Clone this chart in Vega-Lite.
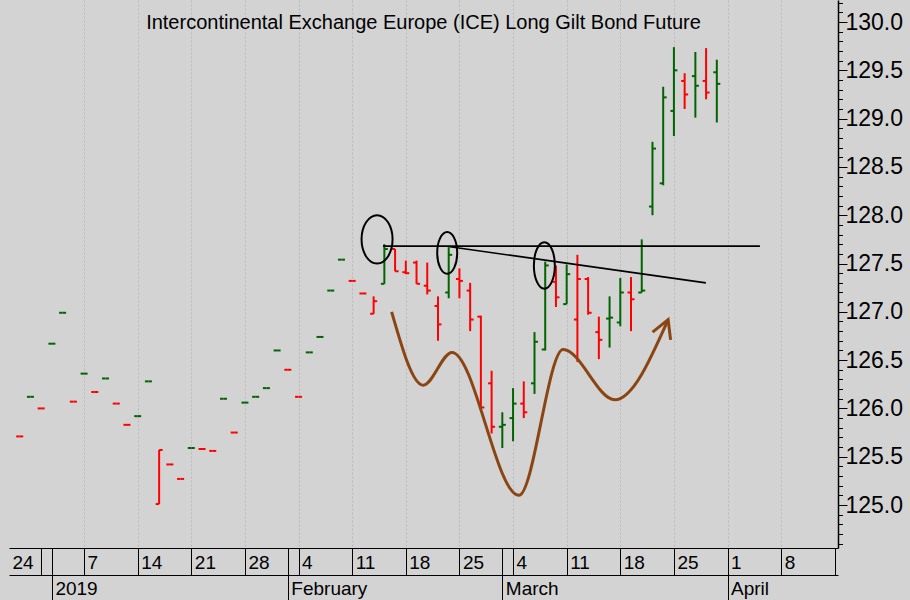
{
  "$schema": "https://vega.github.io/schema/vega-lite/v6.json",
  "width": 829,
  "height": 548,
  "autosize": {"type": "none"},
  "padding": {"left": 9, "top": 0, "right": 72, "bottom": 52},
  "background": "#d3d3d3",
  "config": {"view": {"stroke": null}, "font": "Liberation Sans"},
  "title": {"text": "Intercontinental Exchange Europe (ICE) Long Gilt Bond Future", "anchor": "middle", "frame": "group", "offset": -43, "baseline": "middle", "fontSize": 20, "fontWeight": "normal", "font": "Liberation Sans", "color": "#000000"},
  "datasets": {
    "ohlc": [
      {"d": "2018-12-27", "i": 1, "open": 125.71, "high": 125.71, "low": 125.71, "close": 125.71},
      {"d": "2018-12-28", "i": 2, "open": 126.12, "high": 126.12, "low": 126.12, "close": 126.12},
      {"d": "2018-12-31", "i": 3, "open": 126.00, "high": 126.00, "low": 126.00, "close": 126.00},
      {"d": "2019-01-02", "i": 4, "open": 126.67, "high": 126.67, "low": 126.67, "close": 126.67},
      {"d": "2019-01-03", "i": 5, "open": 126.99, "high": 126.99, "low": 126.99, "close": 126.99},
      {"d": "2019-01-04", "i": 6, "open": 126.07, "high": 126.07, "low": 126.07, "close": 126.07},
      {"d": "2019-01-07", "i": 7, "open": 126.36, "high": 126.36, "low": 126.36, "close": 126.36},
      {"d": "2019-01-08", "i": 8, "open": 126.17, "high": 126.17, "low": 126.17, "close": 126.17},
      {"d": "2019-01-09", "i": 9, "open": 126.31, "high": 126.31, "low": 126.31, "close": 126.31},
      {"d": "2019-01-10", "i": 10, "open": 126.05, "high": 126.05, "low": 126.05, "close": 126.05},
      {"d": "2019-01-11", "i": 11, "open": 125.83, "high": 125.83, "low": 125.83, "close": 125.83},
      {"d": "2019-01-14", "i": 12, "open": 125.92, "high": 125.92, "low": 125.92, "close": 125.92},
      {"d": "2019-01-15", "i": 13, "open": 126.28, "high": 126.28, "low": 126.28, "close": 126.28},
      {"d": "2019-01-16", "i": 14, "open": 125.01, "high": 125.57, "low": 125.01, "close": 125.57},
      {"d": "2019-01-17", "i": 15, "open": 125.42, "high": 125.42, "low": 125.42, "close": 125.42},
      {"d": "2019-01-18", "i": 16, "open": 125.27, "high": 125.27, "low": 125.27, "close": 125.27},
      {"d": "2019-01-21", "i": 17, "open": 125.59, "high": 125.59, "low": 125.59, "close": 125.59},
      {"d": "2019-01-22", "i": 18, "open": 125.58, "high": 125.58, "low": 125.58, "close": 125.58},
      {"d": "2019-01-23", "i": 19, "open": 125.56, "high": 125.56, "low": 125.56, "close": 125.56},
      {"d": "2019-01-24", "i": 20, "open": 126.10, "high": 126.10, "low": 126.10, "close": 126.10},
      {"d": "2019-01-25", "i": 21, "open": 125.75, "high": 125.75, "low": 125.75, "close": 125.75},
      {"d": "2019-01-28", "i": 22, "open": 126.06, "high": 126.06, "low": 126.06, "close": 126.06},
      {"d": "2019-01-29", "i": 23, "open": 126.12, "high": 126.12, "low": 126.12, "close": 126.12},
      {"d": "2019-01-30", "i": 24, "open": 126.21, "high": 126.21, "low": 126.21, "close": 126.21},
      {"d": "2019-01-31", "i": 25, "open": 126.60, "high": 126.60, "low": 126.60, "close": 126.60},
      {"d": "2019-02-01", "i": 26, "open": 126.40, "high": 126.40, "low": 126.40, "close": 126.40},
      {"d": "2019-02-04", "i": 27, "open": 126.12, "high": 126.12, "low": 126.12, "close": 126.12},
      {"d": "2019-02-05", "i": 28, "open": 126.58, "high": 126.58, "low": 126.58, "close": 126.58},
      {"d": "2019-02-06", "i": 29, "open": 126.74, "high": 126.74, "low": 126.74, "close": 126.74},
      {"d": "2019-02-07", "i": 30, "open": 127.22, "high": 127.22, "low": 127.22, "close": 127.22},
      {"d": "2019-02-08", "i": 31, "open": 127.54, "high": 127.54, "low": 127.54, "close": 127.54},
      {"d": "2019-02-11", "i": 32, "open": 127.32, "high": 127.32, "low": 127.32, "close": 127.32},
      {"d": "2019-02-12", "i": 33, "open": 127.19, "high": 127.19, "low": 127.19, "close": 127.19},
      {"d": "2019-02-13", "i": 34, "open": 126.98, "high": 127.16, "low": 126.98, "close": 127.11},
      {"d": "2019-02-14", "i": 35, "open": 127.29, "high": 127.70, "low": 127.29, "close": 127.65},
      {"d": "2019-02-15", "i": 36, "open": 127.65, "high": 127.65, "low": 127.42, "close": 127.42},
      {"d": "2019-02-18", "i": 37, "open": 127.41, "high": 127.53, "low": 127.39, "close": 127.40},
      {"d": "2019-02-19", "i": 38, "open": 127.51, "high": 127.53, "low": 127.29, "close": 127.29},
      {"d": "2019-02-20", "i": 39, "open": 127.27, "high": 127.51, "low": 127.18, "close": 127.22},
      {"d": "2019-02-21", "i": 40, "open": 127.06, "high": 127.16, "low": 126.70, "close": 126.87},
      {"d": "2019-02-22", "i": 41, "open": 127.20, "high": 127.67, "low": 127.14, "close": 127.59},
      {"d": "2019-02-25", "i": 42, "open": 127.34, "high": 127.45, "low": 127.14, "close": 127.32},
      {"d": "2019-02-26", "i": 43, "open": 127.22, "high": 127.30, "low": 126.80, "close": 126.92},
      {"d": "2019-02-27", "i": 44, "open": 126.95, "high": 126.96, "low": 125.98, "close": 126.01},
      {"d": "2019-02-28", "i": 45, "open": 126.26, "high": 126.39, "low": 125.74, "close": 125.81},
      {"d": "2019-03-01", "i": 46, "open": 125.81, "high": 125.96, "low": 125.59, "close": 125.83},
      {"d": "2019-03-04", "i": 47, "open": 125.90, "high": 126.21, "low": 125.66, "close": 126.05},
      {"d": "2019-03-05", "i": 48, "open": 126.05, "high": 126.28, "low": 125.90, "close": 125.96},
      {"d": "2019-03-06", "i": 49, "open": 126.26, "high": 126.79, "low": 126.15, "close": 126.69},
      {"d": "2019-03-07", "i": 50, "open": 126.61, "high": 127.52, "low": 126.60, "close": 127.48},
      {"d": "2019-03-08", "i": 51, "open": 127.31, "high": 127.48, "low": 127.05, "close": 127.15},
      {"d": "2019-03-11", "i": 52, "open": 127.08, "high": 127.49, "low": 127.08, "close": 127.39},
      {"d": "2019-03-12", "i": 53, "open": 126.92, "high": 127.59, "low": 126.48, "close": 127.34},
      {"d": "2019-03-13", "i": 54, "open": 127.34, "high": 127.36, "low": 126.97, "close": 126.99},
      {"d": "2019-03-14", "i": 55, "open": 126.79, "high": 126.95, "low": 126.51, "close": 126.71},
      {"d": "2019-03-15", "i": 56, "open": 126.93, "high": 127.16, "low": 126.63, "close": 126.94},
      {"d": "2019-03-18", "i": 57, "open": 126.89, "high": 127.35, "low": 126.85, "close": 127.20},
      {"d": "2019-03-19", "i": 58, "open": 127.20, "high": 127.36, "low": 126.80, "close": 127.13},
      {"d": "2019-03-20", "i": 59, "open": 127.20, "high": 127.75, "low": 127.20, "close": 127.22},
      {"d": "2019-03-21", "i": 60, "open": 128.09, "high": 128.76, "low": 128.00, "close": 128.69},
      {"d": "2019-03-22", "i": 61, "open": 128.33, "high": 129.33, "low": 128.31, "close": 129.22},
      {"d": "2019-03-25", "i": 62, "open": 129.08, "high": 129.74, "low": 128.82, "close": 129.50},
      {"d": "2019-03-26", "i": 63, "open": 129.39, "high": 129.47, "low": 129.10, "close": 129.25},
      {"d": "2019-03-27", "i": 64, "open": 129.44, "high": 129.69, "low": 129.01, "close": 129.34},
      {"d": "2019-03-28", "i": 65, "open": 129.39, "high": 129.73, "low": 129.20, "close": 129.27},
      {"d": "2019-03-29", "i": 66, "open": 129.48, "high": 129.61, "low": 128.96, "close": 129.36}
    ],
    "hline": [{"i": 34.87, "i2": 70.02, "v": 127.68}],
    "trend": [{"i": 41.11, "v": 127.674, "i2": 64.98, "v2": 127.30}],
    "ell1": [{"i": 34.32, "v": 127.75}],
    "ell2": [{"i": 40.86, "v": 127.61}],
    "ell3": [{"i": 49.92, "v": 127.48}],
    "curve": [
      {"k": 0, "i": 35.68, "v": 127.00},
      {"k": 1, "i": 38.62, "v": 126.24},
      {"k": 2, "i": 41.30, "v": 126.58},
      {"k": 3, "i": 47.54, "v": 125.10},
      {"k": 4, "i": 51.67, "v": 126.61},
      {"k": 5, "i": 56.49, "v": 126.09},
      {"k": 6, "i": 61.46, "v": 126.92}
    ],
    "arrow": [
      {"k": 0, "i": 60.01, "v": 126.79},
      {"k": 1, "i": 61.46, "v": 126.92},
      {"k": 2, "i": 61.69, "v": 126.71}
    ]
  },
  "resolve": {"axis": {"x": "independent", "y": "independent"}},
  "layer": [
    {
      "data": {"name": "ohlc"},
      "transform": [{"window": [{"op": "lag", "field": "close", "as": "prev"}], "sort": [{"field": "i"}]}],
      "mark": {"type": "rule", "strokeWidth": 2},
      "encoding": {
        "x": {"field": "i", "type": "quantitative", "scale": {"domain": [0, 77.3], "nice": false, "zero": false},
          "axis": {
            "orient": "bottom", "title": null,
            "values": [0, 3, 4, 7, 12, 17, 22, 26, 27, 32, 37, 42, 46, 47, 52, 57, 62, 67, 72, 77],
            "labelExpr": "{'0':'24','7':'7','12':'14','17':'21','22':'28','27':'4','32':'11','37':'18','42':'25','47':'4','52':'11','57':'18','62':'25','67':'1','72':'8'}[datum.value] || ''",
            "domain": true, "domainColor": "#000000", "domainWidth": 1,
            "ticks": true, "tickSize": 27, "tickColor": "#000000", "tickWidth": 1,
            "tickOpacity": {"condition": {"test": "datum.value == 0", "value": 0}, "value": 1},
            "grid": true, "gridColor": "#b8b8b8", "gridDash": [2, 2], "gridWidth": 1,
            "gridOpacity": {"condition": {"test": "indexof([0,3,4,26,46,77], datum.value) >= 0", "value": 0}, "value": 1},
            "labelAlign": "left", "labelBaseline": "middle", "labelOffset": 3, "labelPadding": -13,
            "labelFontSize": 19, "labelFont": "Liberation Sans", "labelColor": "#000000",
            "labelOverlap": false, "labelFlush": false, "labelBound": false
          }
        },
        "y": {"field": "low", "type": "quantitative", "scale": {"domain": [124.555, 130.228], "nice": false, "zero": false},
          "axis": {
            "orient": "right", "title": null,
            "values": [125, 125.5, 126, 126.5, 127, 127.5, 128, 128.5, 129, 129.5, 130],
            "format": ".1f",
            "domain": true, "domainColor": "#000000", "domainWidth": 1.5,
            "ticks": true, "tickSize": 9, "tickColor": "#000000", "tickWidth": 1,
            "grid": false,
            "labelAlign": "left", "labelBaseline": "middle", "labelPadding": -2,
            "labelFontSize": 23, "labelFont": "Liberation Sans", "labelColor": "#000000",
            "labelOverlap": false, "labelFlush": false, "labelBound": false
          }
        },
        "y2": {"field": "high"},
        "color": {"condition": {"test": "datum.prev != null && datum.close > datum.prev", "value": "#006400"}, "value": "#ff0000"}
      }
    },
    {
      "data": {"name": "ohlc"},
      "transform": [{"window": [{"op": "lag", "field": "close", "as": "prev"}], "sort": [{"field": "i"}]}],
      "mark": {"type": "rule", "strokeWidth": 2, "xOffset": -3.5, "x2Offset": 0},
      "encoding": {
        "x": {"field": "i", "type": "quantitative", "scale": {"domain": [0, 77.3], "nice": false, "zero": false},
          "axis": {
            "orient": "bottom", "offset": 27, "title": null,
            "values": [4, 26, 46, 67],
            "labelExpr": "{'4':'2019','26':'February','46':'March','67':'April'}[datum.value] || ''",
            "domain": true, "domainColor": "#000000", "domainWidth": 1,
            "ticks": true, "tickSize": 25, "tickColor": "#000000", "tickWidth": 1,
            "grid": false,
            "labelAlign": "left", "labelBaseline": "middle", "labelOffset": 3, "labelPadding": -12,
            "labelFontSize": 19, "labelFont": "Liberation Sans", "labelColor": "#000000",
            "labelOverlap": false, "labelFlush": false, "labelBound": false
          }
        },
        "x2": {"field": "i"},
        "y": {"field": "open", "type": "quantitative", "scale": {"domain": [124.555, 130.228], "nice": false, "zero": false},
          "axis": {
            "orient": "right", "title": null,
            "values": [124.6, 124.7, 124.8, 124.9, 125.0, 125.1, 125.2, 125.3, 125.4, 125.5, 125.6, 125.7, 125.8, 125.9, 126.0, 126.1, 126.2, 126.3, 126.4, 126.5, 126.6, 126.7, 126.8, 126.9, 127.0, 127.1, 127.2, 127.3, 127.4, 127.5, 127.6, 127.7, 127.8, 127.9, 128.0, 128.1, 128.2, 128.3, 128.4, 128.5, 128.6, 128.7, 128.8, 128.9, 129.0, 129.1, 129.2, 129.3, 129.4, 129.5, 129.6, 129.7, 129.8, 129.9, 130.0, 130.1, 130.2],
            "labels": false, "domain": false, "grid": false,
            "ticks": true, "tickSize": 4.5, "tickColor": "#000000", "tickWidth": 1
          }
        },
        "color": {"condition": {"test": "datum.prev != null && datum.close > datum.prev", "value": "#006400"}, "value": "#ff0000"}
      }
    },
    {
      "data": {"name": "ohlc"},
      "transform": [{"window": [{"op": "lag", "field": "close", "as": "prev"}], "sort": [{"field": "i"}]}],
      "mark": {"type": "rule", "strokeWidth": 2, "xOffset": 0, "x2Offset": 3.5},
      "encoding": {
        "x": {"field": "i", "type": "quantitative", "axis": null},
        "x2": {"field": "i"},
        "y": {"field": "close", "type": "quantitative", "axis": null},
        "color": {"condition": {"test": "datum.prev != null && datum.close > datum.prev", "value": "#006400"}, "value": "#ff0000"}
      }
    },
    {
      "data": {"name": "hline"},
      "mark": {"type": "rule", "color": "#000000", "strokeWidth": 1.6},
      "encoding": {
        "x": {"field": "i", "type": "quantitative", "axis": null},
        "x2": {"field": "i2"},
        "y": {"field": "v", "type": "quantitative", "axis": null}
      }
    },
    {
      "data": {"name": "trend"},
      "mark": {"type": "rule", "color": "#000000", "strokeWidth": 1.6},
      "encoding": {
        "x": {"field": "i", "type": "quantitative", "axis": null},
        "x2": {"field": "i2"},
        "y": {"field": "v", "type": "quantitative", "axis": null},
        "y2": {"field": "v2"}
      }
    },
    {
      "data": {"name": "ell1"},
      "mark": {"type": "point", "filled": false, "color": "#000000", "opacity": 1, "strokeWidth": 2, "size": 2333,
        "shape": "M0.642,0C0.642,0.5523,0.3546,1,0,1C-0.3546,1,-0.642,0.5523,-0.642,0C-0.642,-0.5523,-0.3546,-1,0,-1C0.3546,-1,0.642,-0.5523,0.642,0Z"},
      "encoding": {
        "x": {"field": "i", "type": "quantitative", "axis": null},
        "y": {"field": "v", "type": "quantitative", "axis": null}
      }
    },
    {
      "data": {"name": "ell2"},
      "mark": {"type": "point", "filled": false, "color": "#000000", "opacity": 1, "strokeWidth": 2, "size": 1731,
        "shape": "M0.48,0C0.48,0.5523,0.2651,1,0,1C-0.2651,1,-0.48,0.5523,-0.48,0C-0.48,-0.5523,-0.2651,-1,0,-1C0.2651,-1,0.48,-0.5523,0.48,0Z"},
      "encoding": {
        "x": {"field": "i", "type": "quantitative", "axis": null},
        "y": {"field": "v", "type": "quantitative", "axis": null}
      }
    },
    {
      "data": {"name": "ell3"},
      "mark": {"type": "point", "filled": false, "color": "#000000", "opacity": 1, "strokeWidth": 2, "size": 2172,
        "shape": "M0.45,0C0.45,0.5523,0.2485,1,0,1C-0.2485,1,-0.45,0.5523,-0.45,0C-0.45,-0.5523,-0.2485,-1,0,-1C0.2485,-1,0.45,-0.5523,0.45,0Z"},
      "encoding": {
        "x": {"field": "i", "type": "quantitative", "axis": null},
        "y": {"field": "v", "type": "quantitative", "axis": null}
      }
    },
    {
      "data": {"name": "curve"},
      "mark": {"type": "line", "color": "#8B4513", "strokeWidth": 3, "interpolate": "monotone"},
      "encoding": {
        "x": {"field": "i", "type": "quantitative", "axis": null},
        "y": {"field": "v", "type": "quantitative", "axis": null},
        "order": {"field": "k"}
      }
    },
    {
      "data": {"name": "arrow"},
      "mark": {"type": "line", "color": "#8B4513", "strokeWidth": 3, "strokeJoin": "miter"},
      "encoding": {
        "x": {"field": "i", "type": "quantitative", "axis": null},
        "y": {"field": "v", "type": "quantitative", "axis": null},
        "order": {"field": "k"}
      }
    }
  ]
}
